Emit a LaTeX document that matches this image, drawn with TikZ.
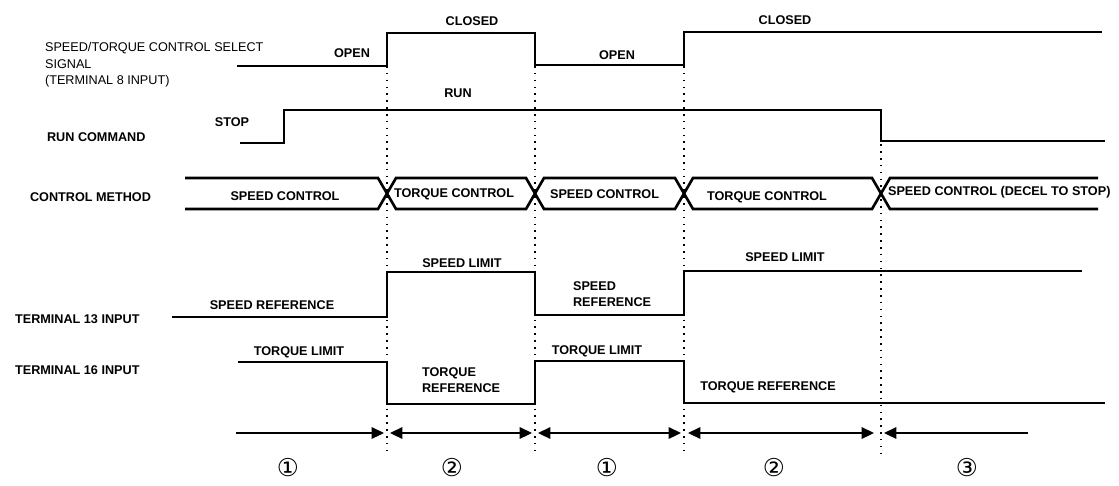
\documentclass[tikz,border=0pt]{standalone}
\usepackage{fontspec}
\setmainfont{Liberation Sans}
\newfontfamily\circfont{DejaVu Sans}
\usetikzlibrary{arrows.meta}

\begin{document}
\begin{tikzpicture}[x=0.02cm, y=-0.02cm, >={Triangle[length=7pt,width=6.5pt]},
  sig/.style={line width=1.5pt, line join=miter},
  guide/.style={line width=0.9pt, dash pattern=on 0.9pt off 3pt},
  span/.style={line width=1pt},
  lbl/.style={font=\fontsize{7.2}{9.5}\selectfont\bfseries, inner sep=1pt},
  sname/.style={lbl, anchor=west, align=left},
  phase/.style={font=\circfont\fontsize{14}{15}\selectfont, inner sep=0pt}]
  \useasboundingbox (0,0) rectangle (1119,485);

  % signal names on the left
  \node[sname, font=\fontsize{7.2}{9.5}\selectfont] (nsel) at (43,65) {SPEED/TORQUE CONTROL SELECT\\SIGNAL\\(TERMINAL 8 INPUT)};
  \node[sname] (nrun) at (45,137) {RUN COMMAND};
  \node[sname] (nmeth) at (28,197) {CONTROL METHOD};
  \node[sname] (nt13) at (13,319) {TERMINAL 13 INPUT};
  \node[sname] (nt16) at (13,370) {TERMINAL 16 INPUT};

  % dotted guides at the switching instants
  \foreach \x in {387,535,684}
    \draw[guide] (\x,66) -- (\x,456);
  \draw[guide] (881,110) -- (881,456);

  % select signal (terminal 8)
  \draw[sig] (237,66) -- (387,66) -- (387,33) -- (535,33) -- (535,65) -- (684,65) -- (684,32) -- (1102,32);
  \node[lbl] (open1) at (352,53) {OPEN};
  \node[lbl] (closed1) at (472,21) {CLOSED};
  \node[lbl] (open2) at (617,55) {OPEN};
  \node[lbl] (closed2) at (785,20) {CLOSED};

  % run command
  \draw[sig] (240,143) -- (284,143) -- (284,110) -- (881,110) -- (881,141) -- (1105,141);
  \node[lbl] (stop) at (232,122) {STOP};
  \node[lbl] (run) at (458,93) {RUN};

  % control method bus, crossings at the guides
  \draw[sig] (185,178) -- (378,178) -- (396,209) -- (526,209) -- (544,178) -- (675,178)
    -- (693,209) -- (872,209) -- (890,178) -- (1098,178);
  \draw[sig] (185,209) -- (378,209) -- (396,178) -- (526,178) -- (544,209) -- (675,209)
    -- (693,178) -- (872,178) -- (890,209) -- (1098,209);
  \node[lbl] (sc1) at (285,196) {SPEED CONTROL};
  \node[lbl, anchor=west] (tc1) at (392,194) {TORQUE CONTROL};
  \node[lbl, anchor=west] (sc2) at (548,194) {SPEED CONTROL};
  \node[lbl] (tc2) at (767,197) {TORQUE CONTROL};
  \node[lbl, anchor=west] (sc3) at (886,192) {SPEED CONTROL (DECEL TO STOP)};

  % terminal 13
  \draw[sig] (172,317) -- (387,317) -- (387,272) -- (535,272) -- (535,315) -- (684,315) -- (684,271) -- (1082,271);
  \node[lbl] (sref1) at (272,305) {SPEED REFERENCE};
  \node[lbl] (slim1) at (462,263) {SPEED LIMIT};
  \node[lbl, anchor=west, align=left] (sref2) at (571,294) {SPEED\\REFERENCE};
  \node[lbl] (slim2) at (785,257) {SPEED LIMIT};

  % terminal 16
  \draw[sig] (238,362) -- (387,362) -- (387,404) -- (535,404) -- (535,361) -- (684,361) -- (684,403) -- (1105,403);
  \node[lbl] (tlim1) at (299,352) {TORQUE LIMIT};
  \node[lbl, anchor=west, align=left] (tref1) at (420,380) {TORQUE\\REFERENCE};
  \node[lbl] (tlim2) at (597,351) {TORQUE LIMIT};
  \node[lbl] (tref2) at (768,387) {TORQUE REFERENCE};

  % phases
  \draw[span,->] (236,433) -- (384,433);
  \draw[span,<->] (390,433) -- (532,433);
  \draw[span,<->] (538,433) -- (681,433);
  \draw[span,<->] (688,433) -- (874,433);
  \draw[span,<-] (884,433) -- (1028,433);
  \node[phase] (p1) at (288,468) {①};
  \node[phase] (p2) at (452,468) {②};
  \node[phase] (p3) at (607,468) {①};
  \node[phase] (p4) at (774,468) {②};
  \node[phase] (p5) at (967,468) {③};
\end{tikzpicture}
\end{document}
